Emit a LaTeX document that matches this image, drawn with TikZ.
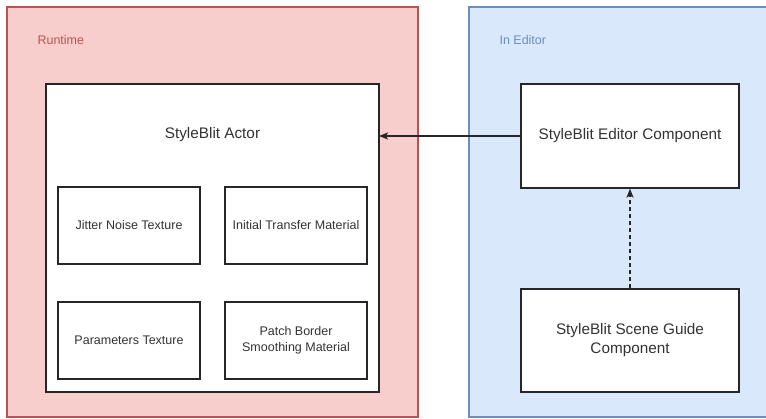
\documentclass[tikz,border=0pt]{standalone}
\usepackage{fontspec}
\setmainfont{Liberation Sans}
\usetikzlibrary{arrows.meta}
\definecolor{rtfill}{HTML}{F8CECC}
\definecolor{rtline}{HTML}{B85450}
\definecolor{edfill}{HTML}{DAE8FC}
\definecolor{edline}{HTML}{6C8EBF}
\definecolor{txt}{HTML}{333333}
\tikzset{
  region/.style={line width=1.2pt},
  box/.style={draw=black!85, fill=white, line width=1.2pt, inner sep=0pt},
  smalltext/.style={font=\fontsize{12.5}{16}\selectfont, text=txt, align=center},
  bigtext/.style={font=\fontsize{15.3}{19}\selectfont, text=txt, align=center},
  conn/.style={draw=black!85, line width=1.3pt, -{Stealth[length=9pt,width=7pt,inset=2pt]}},
}
\begin{document}
\begin{tikzpicture}[x=1pt,y=-1pt]
\useasboundingbox (0,0) rectangle (766,419);
\clip (0,0) rectangle (766,419);
% region panels
\draw[region, fill=rtfill, draw=rtline] (7,7) rectangle (418,417);
\draw[region, fill=edfill, draw=edline] (469,7) rectangle (790,417);
\node[anchor=west, font=\fontsize{12.5}{15}\selectfont, text=rtline] (rtlabel) at (34,40) {Runtime};
\node[anchor=west, font=\fontsize{12.5}{15}\selectfont, text=edline] (edlabel) at (496,40) {In Editor};
% runtime actor and its parts
\draw[box] (46,84) rectangle (379,392);
\coordinate (actorE) at (379,136);
\node[bigtext] (actor) at (212.5,135) {StyleBlit Actor};
\node[box, minimum width=142pt, minimum height=77pt, smalltext] (jitter) at (129,225.5) {Jitter Noise Texture};
\node[box, minimum width=142pt, minimum height=77pt, smalltext] (transfer) at (296,225.5) {Initial Transfer Material};
\node[box, minimum width=142pt, minimum height=77pt, smalltext] (params) at (129,340.5) {Parameters Texture};
\node[box, minimum width=142pt, minimum height=77pt, smalltext] (smooth) at (296,340.5) {Patch Border\\Smoothing Material};
% editor side
\node[box, minimum width=218pt, minimum height=104pt, bigtext] (editor) at (630,136) {StyleBlit Editor Component};
\node[box, minimum width=218pt, minimum height=103pt, bigtext] (guide) at (630,340.5) {StyleBlit Scene Guide\\Component};
% connectors
\draw[conn] (editor.west) -- (actorE);
\draw[conn, dashed, dash pattern=on 4pt off 3pt] (guide.north) -- (editor.south);
\end{tikzpicture}
\end{document}
